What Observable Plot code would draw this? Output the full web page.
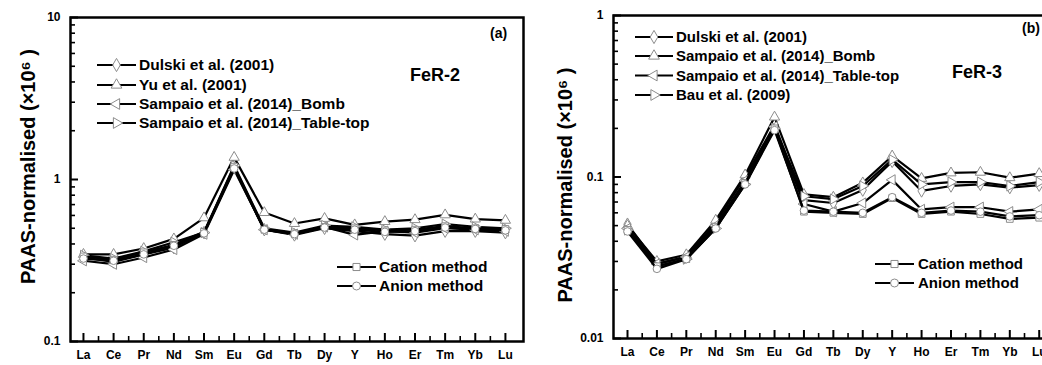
<!DOCTYPE html>
<html><head><meta charset="utf-8">
<script src="https://cdn.jsdelivr.net/npm/d3@7"></script>
<script src="https://cdn.jsdelivr.net/npm/@observablehq/plot@0.6"></script>
<style>
html,body{margin:0;padding:0;background:#fff;}
#wrap{position:relative;width:1042px;height:365px;overflow:hidden;font-family:"Liberation Sans",Arial,sans-serif;}
#wrap > svg{position:absolute;top:0;}
</style></head><body><div id="wrap"></div>
<script>
// ---------- data ----------
const cats = ["La","Ce","Pr","Nd","Sm","Eu","Gd","Tb","Dy","Y","Ho","Er","Tm","Yb","Lu"];

// Panel (a) FeR-2
const aDulski   = [0.33,0.31,0.345,0.38,0.47,1.18,0.49,0.455,0.50,0.48,0.46,0.45,0.48,0.48,0.47];
const aYu       = [0.345,0.345,0.375,0.43,0.58,1.37,0.625,0.535,0.575,0.525,0.55,0.565,0.605,0.57,0.56];
const aBomb     = [0.315,0.30,0.33,0.37,0.46,1.15,0.49,0.46,0.51,0.455,0.48,0.47,0.50,0.49,0.48];
const aTable    = [0.34,0.325,0.36,0.41,0.47,1.22,0.50,0.47,0.52,0.51,0.49,0.50,0.53,0.51,0.50];
const aCation   = [0.335,0.32,0.355,0.395,0.475,1.20,0.495,0.465,0.51,0.50,0.485,0.49,0.515,0.50,0.495];
const aAnion    = [0.325,0.315,0.345,0.39,0.465,1.17,0.49,0.46,0.505,0.49,0.475,0.48,0.505,0.495,0.485];

// Panel (b) FeR-3
const bDulski   = [0.051,0.029,0.032,0.052,0.100,0.210,0.072,0.069,0.083,0.125,0.082,0.088,0.090,0.086,0.089];
const bBomb     = [0.050,0.030,0.033,0.054,0.103,0.235,0.078,0.075,0.092,0.135,0.098,0.106,0.107,0.099,0.105];
const bTable    = [0.048,0.029,0.032,0.050,0.095,0.205,0.068,0.061,0.069,0.096,0.063,0.065,0.065,0.061,0.063];
const bBau      = [0.047,0.028,0.031,0.048,0.090,0.200,0.076,0.073,0.088,0.128,0.090,0.093,0.093,0.088,0.093];
const bCation   = [0.047,0.028,0.031,0.049,0.092,0.200,0.061,0.060,0.059,0.074,0.059,0.061,0.059,0.055,0.056];
const bAnion    = [0.046,0.027,0.031,0.048,0.090,0.195,0.062,0.061,0.060,0.075,0.060,0.062,0.061,0.057,0.058];

const aNames = ["Dulski et al. (2001)","Yu et al. (2001)","Sampaio et al. (2014)_Bomb","Sampaio et al. (2014)_Table-top","Cation method","Anion method"];
const bNames = ["Dulski et al. (2001)","Sampaio et al. (2014)_Bomb","Sampaio et al. (2014)_Table-top","Bau et al. (2009)","Cation method","Anion method"];

const aTicks = [0.1, 1, 10];
const aTickLabels = ["0.1","1","10"];
const bTicks = [0.01, 0.1, 1];
const bTickLabels = ["0.01","0.1","1"];

const yTitle = "PAAS-normalised (\u00d710\u2076 )";

// ---------- symbols ----------
const sqrt3 = Math.sqrt(3);
const triLeft = {draw(ctx, size){ const y = -Math.sqrt(size/(sqrt3*3)); ctx.moveTo(y*2,0); ctx.lineTo(-y,-sqrt3*y); ctx.lineTo(-y,sqrt3*y); ctx.closePath(); }};
const triRight = {draw(ctx, size){ const y = -Math.sqrt(size/(sqrt3*3)); ctx.moveTo(-y*2,0); ctx.lineTo(y,sqrt3*y); ctx.lineTo(y,-sqrt3*y); ctx.closePath(); }};
const SYM = {diamond: d3.symbolDiamond, triangle: d3.symbolTriangle, left: triLeft, right: triRight, square: d3.symbolSquare, circle: d3.symbolCircle};

const aSeries = [
  {name: aNames[0], sym: "diamond", v: aDulski},
  {name: aNames[1], sym: "triangle", v: aYu},
  {name: aNames[2], sym: "left", v: aBomb},
  {name: aNames[3], sym: "right", v: aTable},
  {name: aNames[4], sym: "square", v: aCation},
  {name: aNames[5], sym: "circle", v: aAnion}
];
const bSeries = [
  {name: bNames[0], sym: "diamond", v: bDulski},
  {name: bNames[1], sym: "triangle", v: bBomb},
  {name: bNames[2], sym: "left", v: bTable},
  {name: bNames[3], sym: "right", v: bBau},
  {name: bNames[4], sym: "square", v: bCation},
  {name: bNames[5], sym: "circle", v: bAnion}
];

const MARK_STROKE = "#8c8c8c";
const FONT = "Liberation Sans, Arial, sans-serif";

function minorTicks(major){
  const out = [];
  for (let i = 0; i < major.length - 1; i++) for (let k = 2; k <= 9; k++) out.push(major[i]*k);
  return out;
}

function panel(cfg){
  const W = cfg.width, H = 365;
  const fw = W - cfg.ml - cfg.mr, fh = H - cfg.mt - cfg.mb;
  const idx = cats.map((c,i)=>i);
  const marks = [];
  marks.push(Plot.tickY(cfg.ticks, {y: d=>d, insetRight: fw - 8, stroke: "black", strokeWidth: 2}));
  marks.push(Plot.tickY(minorTicks(cfg.ticks), {y: d=>d, insetRight: fw - 5, stroke: "black", strokeWidth: 1.6}));
  marks.push(Plot.tickX(idx, {x: d=>d, insetTop: fh - 8, stroke: "black", strokeWidth: 2}));
  marks.push(Plot.tickX(idx.slice(0,-1), {x: d=>d+0.5, insetTop: fh - 5, stroke: "black", strokeWidth: 1.6}));
  for (const s of cfg.series){
    const rows = s.v.map((v,i)=>({i, v}));
    marks.push(Plot.line(rows, {x: "i", y: "v", stroke: "black", strokeWidth: 2.2}));
    marks.push(Plot.dot(rows, {x: "i", y: "v", symbol: SYM[s.sym], r: 3.8, fill: "white", stroke: MARK_STROKE, strokeWidth: 1}));
  }
  marks.push(Plot.frame({stroke: "black", strokeWidth: 2.5}));
  marks.push(Plot.axisY({ticks: cfg.ticks, tickFormat: (d)=>cfg.tickLabels[cfg.ticks.indexOf(d)], tickSize: 0, tickPadding: cfg.tp, fontSize: 12, fontWeight: "bold", label: null}));
  marks.push(Plot.axisX({ticks: idx, tickFormat: i=>cats[i], tickSize: 0, tickPadding: 9, fontSize: 12, fontWeight: "bold", label: null}));
  marks.push(Plot.text([yTitle], {text: d=>d, frameAnchor: "left", textAnchor: "middle", lineAnchor: "middle", dx: cfg.tdx, dy: cfg.tdy, rotate: -90, fontSize: 20, fontWeight: "bold"}));
  const p = Plot.plot({
    width: W, height: H,
    marginLeft: cfg.ml, marginRight: cfg.mr, marginTop: cfg.mt, marginBottom: cfg.mb,
    x: {type: "linear", domain: cfg.xd, axis: null},
    y: {type: "log", domain: cfg.yd, axis: null},
    style: {fontFamily: FONT, color: "black", background: "white", overflow: "visible"},
    marks
  });
  p.style.left = cfg.left + "px";
  return p;
}

const wrap = document.getElementById("wrap");
wrap.appendChild(panel({left: 0, width: 530, ml: 70, mr: 7, mt: 17, mb: 24, xd: [-0.43, 14.6], yd: [0.1, 10], ticks: aTicks, tickLabels: aTickLabels, series: aSeries, tp: 10, tdx: -42, tdy: -13}));
wrap.appendChild(panel({left: 530, width: 530, ml: 83, mr: 6, mt: 15, mb: 27, xd: [-0.476, 14.52], yd: [0.01, 1], ticks: bTicks, tickLabels: bTickLabels, series: bSeries, tp: 10, tdx: -48, tdy: 8}));

// ---------- legends & panel labels (overlay) ----------
const ov = d3.select(wrap).append("svg").attr("width", 1042).attr("height", 365).style("left", "0px")
  .attr("font-family", FONT).attr("font-weight", "bold");

function legend(series, x0, x1, xt, ys, fs){
  series.forEach((s, k) => {
    const y = ys[k];
    ov.append("line").attr("x1", x0).attr("x2", x1).attr("y1", y).attr("y2", y).attr("stroke", "black").attr("stroke-width", 2);
    ov.append("path").attr("d", d3.symbol(SYM[s.sym], Math.PI*4*4)()).attr("transform", `translate(${(x0+x1)/2},${y})`)
      .attr("fill", "white").attr("stroke", MARK_STROKE).attr("stroke-width", 1);
    ov.append("text").attr("x", xt).attr("y", y).attr("dy", "0.35em").attr("font-size", fs).text(s.name);
  });
}
legend(aSeries.slice(0,4), 97, 136, 139, [65, 85, 104, 123], 15.5);
legend(aSeries.slice(4), 337, 376, 379, [267, 286], 15.5);
legend(bSeries.slice(0,4), 635, 673, 676, [37, 56, 75.5, 95], 15);
legend(bSeries.slice(4), 875, 914, 918, [264, 283], 15);

const labels = [
  {t: "FeR-2", x: 410, y: 75, s: 18},
  {t: "(a)", x: 490, y: 33, s: 14},
  {t: "FeR-3", x: 952, y: 72, s: 18},
  {t: "(b)", x: 1022, y: 28, s: 14}
];
labels.forEach(l => ov.append("text").attr("x", l.x).attr("y", l.y).attr("dy", "0.35em").attr("font-size", l.s).text(l.t));
</script></body></html>
